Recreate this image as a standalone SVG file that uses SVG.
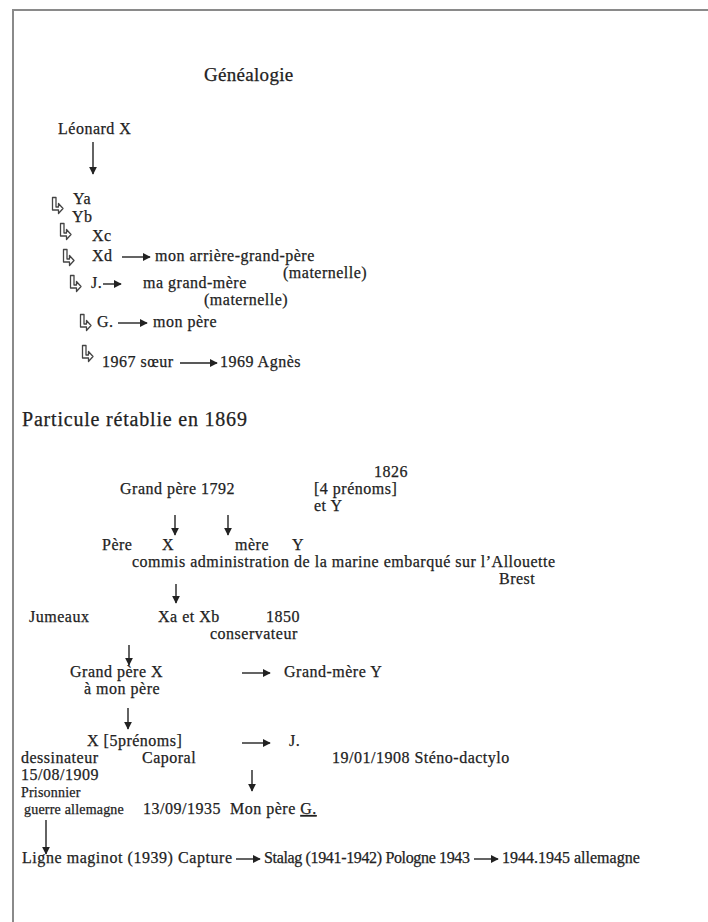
<svg xmlns="http://www.w3.org/2000/svg" width="708" height="922" viewBox="0 0 708 922">
<style>
text{font-family:"Liberation Serif","Times New Roman",serif;fill:#222;stroke:#222;stroke-width:0.25px;font-size:16px;letter-spacing:0.5px}
.t{font-size:19px;letter-spacing:0.3px}
.h{font-size:20px;letter-spacing:0.8px}
.s{font-size:14px;letter-spacing:0.2px}
.bl{font-size:16px;letter-spacing:0}
.frame{stroke:#8a8a8a;stroke-width:2;fill:none}
.ln{stroke:#222;stroke-width:1.4;fill:none}
.hd{fill:#222}
.bent{fill:none;stroke:#444;stroke-width:1.3;stroke-linejoin:round}
</style>
<defs>
<path id="bentArrow" class="bent" d="M0.5,0.5 h3.5 v9.5 h2.5 v-3.5 l4.5,5 l-4.5,5 v-3.5 h-6 z"/>
<marker id="ah" viewBox="0 0 10 10" refX="9" refY="5" markerWidth="8" markerHeight="8" markerUnits="userSpaceOnUse" orient="auto">
<path d="M0,0 L10,5 L0,10 z" class="hd"/>
</marker>
</defs>
<rect width="708" height="922" fill="#fff"/>
<path class="frame" d="M13,922 V10 H708"/>

<g id="title"><text class="t" x="204" y="81">Généalogie</text></g>
<g id="leonard"><text x="58" y="134">Léonard X</text></g>

<g id="gen1">
<use href="#bentArrow" x="52" y="197"/>
<text x="73" y="204">Ya</text>
<text x="72" y="222">Yb</text>
</g>
<g id="gen2"><use href="#bentArrow" x="60" y="223"/><text x="92" y="241">Xc</text></g>
<g id="gen3"><use href="#bentArrow" x="63" y="249"/><text x="92" y="261">Xd</text>
<text x="155" y="261">mon arrière-grand-père</text>
<text x="283" y="278">(maternelle)</text></g>
<g id="gen4"><use href="#bentArrow" x="70" y="275"/><text x="91" y="288">J.</text>
<text x="143" y="288">ma grand-mère</text>
<text x="204" y="305">(maternelle)</text></g>
<g id="gen5"><use href="#bentArrow" x="80" y="314"/><text x="97" y="327">G.</text>
<text x="153" y="327">mon père</text></g>
<g id="gen6"><use href="#bentArrow" x="82" y="345"/><text x="102" y="367">1967 sœur</text>
<text x="220" y="367">1969 Agnès</text></g>

<g id="particule"><text class="h" x="22" y="426">Particule rétablie en 1869</text></g>

<g id="grandpere1792"><text x="120" y="494">Grand père  1792</text></g>
<g id="y1826"><text x="374" y="477">1826</text>
<text x="314" y="494">[4 prénoms]</text>
<text x="314" y="511">et Y</text></g>
<g id="pere"><text x="102" y="550">Père</text><text x="162" y="550">X</text>
<text x="235" y="550">mère</text><text x="292" y="550">Y</text>
<text x="132" y="567">commis administration de la marine embarqué sur l’Allouette</text>
<text x="499" y="584">Brest</text></g>
<g id="jumeaux"><text x="29" y="622">Jumeaux</text><text x="158" y="622">Xa et Xb</text>
<text x="266" y="622">1850</text><text x="210" y="639">conservateur</text></g>
<g id="grandpereX"><text x="70" y="677">Grand père X</text><text x="84" y="694">à mon père</text></g>
<g id="grandmereY"><text x="284" y="677">Grand-mère Y</text></g>
<g id="X5"><text x="87" y="746">X [5prénoms]</text>
<text x="21" y="763">dessinateur</text><text x="142" y="763">Caporal</text>
<text x="21" y="780">15/08/1909</text>
<text class="s" x="21" y="797">Prisonnier</text>
<text class="s" x="24" y="814">guerre allemagne</text></g>
<g id="J2"><text x="289" y="746">J.</text><text x="332" y="763">19/01/1908 Sténo-dactylo</text></g>
<g id="monpere"><text x="143" y="814">13/09/1935</text>
<text x="230" y="814">Mon père <tspan text-decoration="underline">G.</tspan></text></g>
<g id="ligne"><text class="bl" x="22" y="863" textLength="210" lengthAdjust="spacing">Ligne maginot (1939) Capture</text>
<text class="bl" x="264" y="863" textLength="206" lengthAdjust="spacing">Stalag (1941-1942) Pologne 1943</text>
<text class="bl" x="502" y="863">1944.1945 allemagne</text></g>

<g id="connectors">
<line class="ln" x1="93" y1="142" x2="93" y2="174" marker-end="url(#ah)"/>
<line class="ln" x1="122" y1="257" x2="150" y2="257" marker-end="url(#ah)"/>
<line class="ln" x1="103" y1="284" x2="121" y2="284" marker-end="url(#ah)"/>
<line class="ln" x1="118" y1="323" x2="147" y2="323" marker-end="url(#ah)"/>
<line class="ln" x1="180" y1="363" x2="217" y2="363" marker-end="url(#ah)"/>
<line class="ln" x1="175" y1="515" x2="175" y2="535" marker-end="url(#ah)"/>
<line class="ln" x1="228" y1="515" x2="228" y2="535" marker-end="url(#ah)"/>
<line class="ln" x1="176" y1="584" x2="176" y2="603" marker-end="url(#ah)"/>
<line class="ln" x1="129" y1="645" x2="129" y2="665" marker-end="url(#ah)"/>
<line class="ln" x1="242" y1="673" x2="270" y2="673" marker-end="url(#ah)"/>
<line class="ln" x1="128" y1="708" x2="128" y2="729" marker-end="url(#ah)"/>
<line class="ln" x1="242" y1="743" x2="270" y2="743" marker-end="url(#ah)"/>
<line class="ln" x1="252" y1="770" x2="252" y2="791" marker-end="url(#ah)"/>
<line class="ln" x1="46" y1="820" x2="46" y2="854" marker-end="url(#ah)"/>
<line class="ln" x1="236" y1="859" x2="260" y2="859" marker-end="url(#ah)"/>
<line class="ln" x1="474" y1="859" x2="498" y2="859" marker-end="url(#ah)"/>
</g>
</svg>
